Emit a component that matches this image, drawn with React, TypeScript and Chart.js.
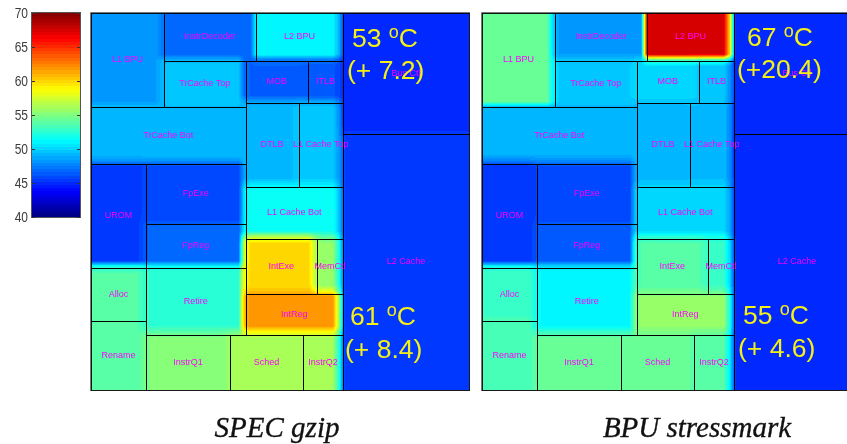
import React, { useEffect, useRef } from "react";
import { Chart, registerables } from "chart.js";

Chart.register(...registerables);

const blockNames = ["L1 BPU","InstrDecoder","L2 BPU","TrCache Top","MOB","ITLB","TrCache Bot","DTLB","L1 Cache Top","L1 Cache Bot","UROM","FpExe","FpReg","Alloc","Rename","Retire","IntExe","MemCtl","IntReg","InstrQ1","Sched","InstrQ2","Bus Ctl","L2 Cache"];
const blockLeft = [0,73,165,73,154.5,217,0,154.5,207.5,154.5,0,55,55,0,0,55,154.5,226,154.5,55,139,212,252,252];
const blockRight = [73,165,252,154.5,217,252,154.5,207.5,252,252,55,154.5,154.5,55,55,154.5,226,252,252,139,212,252,378,378];
const blockTop = [0,0,0,48,48,48,94,90,90,174,151,151,211,255,308,255,226,226,281,322,322,322,0,121];
const blockBottom = [94,48,48,94,90,90,151,174,174,226,255,211,255,308,377,322,281,281,322,377,377,377,121,377];
const gzipTemps = [48.4,46.7,51.2,49.6,46.5,46.3,49.3,49.3,49.7,51.7,45.5,45.8,46.7,53.6,53.6,52.6,59.7,55.5,62,55,56,56,44.7,45.6];
const bpuTemps = [54.3,48.4,67.2,49.8,50.2,49.6,49,49.2,49.3,50.3,45.2,45.8,46.4,53,53.3,51.2,53.6,52.8,55.6,54.2,54.2,53.7,45,45];
const colorTicks = [40,45,50,55,60,65,70];
const gzipNotes = [{ temp: "53", delta: "(+ 7.2)" }, { temp: "61", delta: "(+ 8.4)" }];
const bpuNotes = [{ temp: "67", delta: "(+20.4)" }, { temp: "55", delta: "(+ 4.6)" }];

const jet = (v: number): [number, number, number] => {
  const t0 = Math.max(0, Math.min(0.9999, (v - 40) / 30));
  const t = (Math.floor(t0 * 64) + 0.5) / 64;
  const c = (x: number) => Math.round(255 * Math.max(0, Math.min(1, x)));
  return [c(Math.min(4 * t - 1.5, -4 * t + 4.5)), c(Math.min(4 * t - 0.5, -4 * t + 3.5)), c(Math.min(4 * t + 0.5, -4 * t + 2.5))];
};

const GRID = 5.9;
const SUB = 6;
const heatPlugin = {
  id: "heat",
  beforeDatasetsDraw(chart: any) {
    const { ctx, chartArea: a, scales } = chart;
    const pts = chart.data.datasets[0].data;
    const xs = scales.x, ys = scales.y;
    const W = xs.max, H = ys.max;
    const cellAt = (ux: number, uy: number) => {
      const cx = Math.max(0, Math.min(W, ux)), cy = Math.max(0, Math.min(H, uy));
      for (const p of pts) if (cx >= p.x0 && cx <= p.x1 && cy >= p.y0 && cy <= p.y1) return p.temp;
      return pts[pts.length - 1].temp;
    };
    const nx = Math.ceil(W / GRID) + 1, ny = Math.ceil(H / GRID) + 1;
    const g: number[][] = [];
    for (let j = 0; j < ny; j++) {
      g.push([]);
      for (let i = 0; i < nx; i++) {
        let sum = 0;
        for (let sj = 0; sj < SUB; sj++) for (let si = 0; si < SUB; si++) {
          sum += cellAt((i + 0.5 + (si + 0.5) / SUB - 0.5) * GRID, (j + 0.5 + (sj + 0.5) / SUB - 0.5) * GRID);
        }
        g[j].push(sum / (SUB * SUB));
      }
    }
    const pw = Math.round(a.right - a.left), ph = Math.round(a.bottom - a.top);
    const img = ctx.createImageData(pw, ph);
    for (let py = 0; py < ph; py++) {
      const uy = ys.getValueForPixel(a.top + py + 0.5);
      const fy = uy / GRID, j = Math.min(ny - 2, Math.floor(fy)), dy = fy - j;
      for (let px = 0; px < pw; px++) {
        const ux = xs.getValueForPixel(a.left + px + 0.5);
        const fx = ux / GRID, i = Math.min(nx - 2, Math.floor(fx)), dx = fx - i;
        const v = (g[j][i] * (1 - dx) + g[j][i + 1] * dx) * (1 - dy) + (g[j + 1][i] * (1 - dx) + g[j + 1][i + 1] * dx) * dy;
        const [r, gg, b] = jet(v);
        const k = (py * pw + px) * 4;
        img.data[k] = r; img.data[k + 1] = gg; img.data[k + 2] = b; img.data[k + 3] = 255;
      }
    }
    ctx.putImageData(img, Math.round(a.left), Math.round(a.top));

    ctx.save();
    ctx.strokeStyle = "rgba(0,0,0,0.9)";
    ctx.lineWidth = 1;
    for (const p of pts) {
      const l = Math.round(xs.getPixelForValue(p.x0)) + 0.5, r = Math.round(xs.getPixelForValue(p.x1)) + 0.5;
      const t = Math.round(ys.getPixelForValue(p.y0)) + 0.5, b = Math.round(ys.getPixelForValue(p.y1)) + 0.5;
      ctx.strokeRect(l, t, r - l, b - t);
    }
    ctx.strokeStyle = "#777";
    ctx.beginPath();
    ctx.moveTo(a.left - 0.5, a.bottom + 1); ctx.lineTo(a.left - 0.5, a.top - 0.5); ctx.lineTo(a.right + 1, a.top - 0.5);
    ctx.stroke();
    ctx.fillStyle = "#ff00ff";
    ctx.font = "9px 'Liberation Sans'";
    ctx.textAlign = "center";
    ctx.textBaseline = "middle";
    for (const p of pts) ctx.fillText(p.name, xs.getPixelForValue(p.x), ys.getPixelForValue(p.y));
    ctx.restore();
  },
  afterDatasetsDraw(chart: any, _args: any, opts: any) {
    const { ctx } = chart;
    ctx.save();
    ctx.fillStyle = "#f5f016";
    ctx.textBaseline = "alphabetic";
    ctx.textAlign = "left";
    const big = "26.5px 'Liberation Sans'";
    opts.notes.forEach((n: any, i: number) => {
      const s = opts.noteSpots[i];
      ctx.font = big;
      const tx = n.temp + " ";
      ctx.fillText(tx, s[0], s[1]);
      let w = ctx.measureText(tx).width;
      ctx.font = "18px 'Liberation Sans'";
      ctx.fillText("o", s[0] + w, s[1] - 9);
      w += ctx.measureText("o").width;
      ctx.font = big;
      ctx.fillText("C", s[0] + w, s[1]);
      ctx.fillText(n.delta, s[2], s[3]);
    });
    ctx.fillStyle = "#111";
    ctx.strokeStyle = "#111";
    ctx.lineWidth = 0.35;
    ctx.font = "italic 29px 'Liberation Serif'";
    ctx.textAlign = "center";
    ctx.fillText(opts.caption, opts.captionX, 437);
    ctx.strokeText(opts.caption, opts.captionX, 437);
    ctx.restore();
  },
};

const barPlugin = {
  id: "barFrame",
  afterDatasetsDraw(chart: any) {
    const { ctx, chartArea: a, scales } = chart;
    ctx.save();
    ctx.strokeStyle = "#555";
    ctx.lineWidth = 1;
    ctx.strokeRect(a.left - 0.5, a.top - 0.5, a.right - a.left + 1, a.bottom - a.top + 1);
    ctx.strokeStyle = "#333";
    ctx.beginPath();
    for (const t of colorTicks) {
      const y = Math.round(scales.y.getPixelForValue(t)) + 0.5;
      ctx.moveTo(a.left, y); ctx.lineTo(a.left + 3, y);
      ctx.moveTo(a.right - 3, y); ctx.lineTo(a.right, y);
    }
    ctx.stroke();
    ctx.fillStyle = "#3c3c3c";
    ctx.font = "15px 'Liberation Sans'";
    ctx.textAlign = "right";
    ctx.textBaseline = "middle";
    for (const t of scales.y.ticks) {
      const y = scales.y.getPixelForValue(t.value);
      ctx.save();
      ctx.translate(a.left - 4, y + 0.5);
      ctx.scale(0.8, 1);
      ctx.fillText(String(t.value), 0, 0);
      ctx.restore();
    }
    ctx.restore();
  },
};

function Panel({ left, temps, notes, noteSpots, caption, captionX }: any) {
  const ref = useRef<HTMLCanvasElement>(null);
  useEffect(() => {
    const data = blockNames.map((name, i) => ({
      name,
      x: (blockLeft[i] + blockRight[i]) / 2,
      y: (blockTop[i] + blockBottom[i]) / 2,
      x0: blockLeft[i], x1: blockRight[i], y0: blockTop[i], y1: blockBottom[i],
      temp: temps[i],
    }));
    const chart = new Chart(ref.current!, {
      type: "scatter",
      data: { datasets: [{ data, pointRadius: 0 }] },
      plugins: [heatPlugin],
      options: {
        animation: false,
        responsive: false,
        events: [],
        layout: { padding: { left: 6, right: 6, top: 13, bottom: 54 } },
        scales: {
          x: { type: "linear", min: 0, max: 378, display: false },
          y: { type: "linear", min: 0, max: 377, reverse: true, display: false },
        },
        plugins: {
          legend: { display: false },
          tooltip: { enabled: false },
          heat: { notes, noteSpots, caption, captionX },
        },
      },
    } as any);
    return () => chart.destroy();
  }, []);
  return <canvas ref={ref} width={390} height={444} style={{ position: "absolute", left, top: 0 }} />;
}

function ColorBar() {
  const ref = useRef<HTMLCanvasElement>(null);
  useEffect(() => {
    const chart = new Chart(ref.current!, {
      type: "bar",
      data: {
        labels: ["temperature"],
        datasets: [{
          data: [[colorTicks[0], colorTicks[colorTicks.length - 1]]],
          barPercentage: 1,
          categoryPercentage: 1,
          backgroundColor: (c: any) => {
            const a = c.chart.chartArea;
            if (!a) return "#000";
            const g = c.chart.ctx.createLinearGradient(0, a.bottom, 0, a.top);
            for (let i = 0; i < 64; i++) {
              const [r, gg, b] = jet(40 + ((i + 0.5) * 30) / 64);
              const col = `rgb(${r},${gg},${b})`;
              g.addColorStop(i / 64, col);
              g.addColorStop((i + 1) / 64, col);
            }
            return g;
          },
        }],
      },
      plugins: [barPlugin],
      options: {
        animation: false,
        responsive: false,
        events: [],
        layout: { padding: { left: 0, right: 6, top: 13, bottom: 227 } },
        scales: {
          x: { display: false },
          y: {
            min: 40, max: 70,
            afterFit: (s: any) => { s.width = 32; },
            border: { display: false },
            grid: { display: false, drawTicks: false },
            ticks: { stepSize: 5, color: "rgba(0,0,0,0)", font: { size: 1 } },
          },
        },
        plugins: { legend: { display: false }, tooltip: { enabled: false } },
      },
    } as any);
    return () => chart.destroy();
  }, []);
  return <canvas ref={ref} width={86} height={444} style={{ position: "absolute", left: 0, top: 0 }} />;
}

export default function App() {
  return (
    <div style={{ position: "fixed", left: 0, top: 0, width: 847, height: 444, overflow: "hidden", background: "#fff" }}>
      <ColorBar />
      <Panel left={85} temps={gzipTemps} notes={gzipNotes} noteSpots={[[267, 47, 262, 79], [265, 325, 260, 358]]} caption="SPEC gzip" captionX={192} />
      <Panel left={476} temps={bpuTemps} notes={bpuNotes} noteSpots={[[271, 46, 261, 78], [267, 324, 262, 357]]} caption="BPU stressmark" captionX={221} />
    </div>
  );
}
